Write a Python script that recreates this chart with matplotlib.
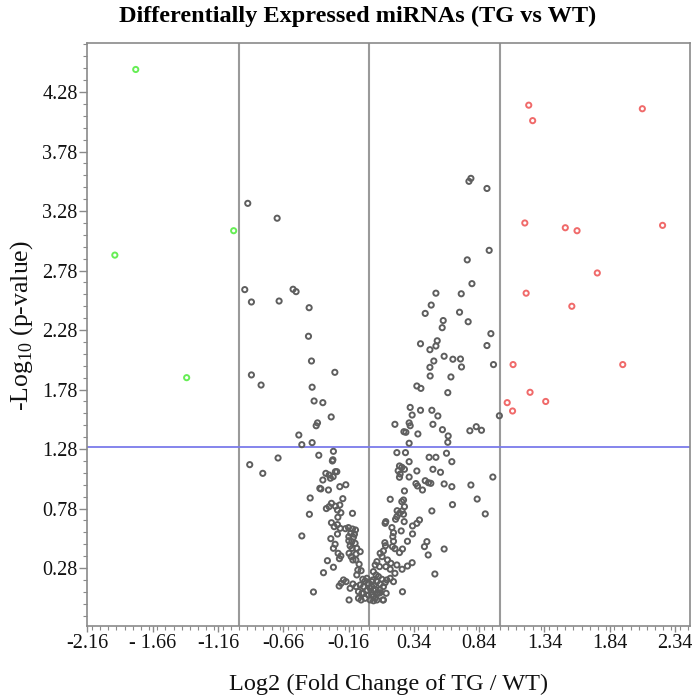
import matplotlib
matplotlib.use("Agg")
import matplotlib.pyplot as plt
from matplotlib.ticker import MultipleLocator, FixedLocator

plt.rcParams['font.family'] = ['Liberation Serif', 'DejaVu Serif']
plt.rcParams['mathtext.fontset'] = 'custom'
plt.rcParams['mathtext.rm'] = 'Liberation Serif'

# ---------------- data ----------------
down_x = [-1.79, -1.95, -1.04, -1.40]
down_y = [4.47, 2.91, 3.115, 1.88]

up_x = [1.22, 1.25, 2.09, 1.19, 1.50, 1.59, 2.245, 1.745, 1.20, 1.55, 1.10, 1.94, 1.23, 1.35, 1.055, 1.096]
up_y = [4.17, 4.04, 4.14, 3.18, 3.14, 3.115, 3.16, 2.76, 2.59, 2.48, 1.99, 1.99, 1.757, 1.68, 1.67, 1.60]

gray_x = [
    0.90, 0.917, 0.93, 0.90, 0.95, 0.995,
    0.777, 0.762, 0.749, 0.785, 0.509, 0.703, 0.473, 0.427, 0.69, 0.565, 0.557, 0.756,
    0.391, 0.519, 0.509, 0.463, 0.572, 0.639, 0.697, 0.493, 0.463, 0.705, 0.465, 0.624,
    0.363, 0.394, 0.60, 0.312, 0.327, 0.391, 0.478, 0.524, 0.195, 0.304, 0.312, 0.486,
    0.264, 0.279, 0.371, 0.559, 0.603, 0.769, 0.818, 0.858, 0.304, 0.60, 0.21, 0.276,
    0.59, 0.457, 0.509, 0.304, 0.631, 0.23, 0.248, 0.268, 0.22, 0.235, 0.23, 0.363,
    0.486, 0.544, 0.304, 0.427, 0.452, 0.47, 0.356, 0.368, 0.572, 0.631, 0.777, 0.945,
    0.406, 0.268, 0.159, 0.248, 0.261, 0.268, 0.825, 0.636, 0.478, 0.887, 0.212, 0.23,
    0.25, 0.261, 0.21, 0.2, 0.266, 0.383, 0.363, 0.33, 0.12, 0.125, 0.172, 0.243,
    0.33, 0.184, 0.179, 0.118, 0.123, 0.107, 0.184, 0.176, 0.195, 0.291, 0.44, 0.421,
    0.23, 0.253, 0.45, 0.572, 0.082, 0.097, 0.057, 0.044, 0.077, 0.138, 0.164, 0.126,
    0.159, 0.21, 0.195, 0.25, 0.291, 0.327, 0.501, 0.03, 0.051, 0.069, 0.026, 0.057,
    0.095, 0.082, 0.12, 0.159, 0.184, 0.018, 0.044, 0.069, 0.018, 0.044, 0.107, 0.031,
    0.082, 0.128, 0.253,
    -0.83, -0.439, -0.424, -0.357, -0.293, -0.398, -0.408, -0.541, -0.518, -0.439,
    -0.70, -0.917, -0.817, -0.388, -0.276, -0.284, -0.28, -0.334, -0.309, -0.261,
    -0.25, -0.278, -0.299, -0.357, -0.38, -0.372, -0.314, -0.227, -0.181, -0.454,
    -0.204, -0.291, -0.261, -0.227, -0.33, -0.309, -0.245, -0.219, -0.46, -0.13,
    -0.242, -0.291, -0.27, -0.245, -0.224, -0.184, -0.161, -0.13, -0.107, -0.143,
    -0.115, -0.518, -0.296, -0.245, -0.263, -0.276, -0.158, -0.158, -0.123, -0.135,
    -0.11, -0.148, -0.133, -0.097, -0.24, -0.23, -0.219, -0.322, -0.156, -0.14,
    -0.127, -0.102, -0.071, -0.104, -0.276, -0.352, -0.079, -0.089, -0.064, -0.097,
    -0.199, -0.217, -0.232, -0.179, -0.127, -0.102, -0.148, -0.051, -0.033, -0.02,
    -0.071, -0.046, -0.084, -0.058, -0.429, -0.156, -0.084, -0.064, -0.033, -0.008,
    0.005, 0.031, 0.057, 0.082, 0.107, 0.133, 0.057, 0.103, -0.046, -0.02,
    0.005, 0.031, -0.008, 0.018, 0.036,
    -0.932, -0.707, -0.955, -0.585, -0.562, -0.904, -0.692, -0.462, -0.467, -0.444,
    -0.904, -0.265,
]
gray_y = [
    3.47, 2.95, 2.25, 2.15, 1.99, 1.56,
    3.555, 3.53, 2.87, 2.67, 2.59, 2.585, 2.49, 2.42, 2.43, 2.36, 2.30, 2.35,
    2.165, 2.19, 2.146, 2.115, 2.06, 2.035, 2.037, 2.02, 1.967, 1.97, 1.894, 1.886,
    1.81, 1.79, 1.754, 1.63, 1.566, 1.606, 1.606, 1.558, 1.488, 1.50, 1.476, 1.488,
    1.426, 1.421, 1.407, 1.443, 1.39, 1.434, 1.468, 1.438, 1.329, 1.337, 1.25, 1.25,
    1.245, 1.211, 1.211, 1.174, 1.174, 1.138, 1.127, 1.11, 1.098, 1.07, 1.043, 1.096,
    1.11, 1.085, 1.045, 1.014, 0.997, 0.992, 0.99, 0.97, 0.987, 0.964, 0.978, 1.045,
    0.936, 0.928, 0.858, 0.838, 0.852, 0.796, 0.86, 0.813, 0.76, 0.735, 0.762, 0.74,
    0.76, 0.732, 0.712, 0.69, 0.67, 0.684, 0.656, 0.634, 0.656, 0.67, 0.62, 0.592,
    0.567, 0.577, 0.544, 0.493, 0.468, 0.424, 0.505, 0.46, 0.443, 0.505, 0.502, 0.46,
    0.41, 0.44, 0.39, 0.44, 0.404, 0.376, 0.334, 0.306, 0.292, 0.348, 0.32, 0.292,
    0.27, 0.306, 0.236, 0.27, 0.297, 0.325, 0.23, 0.25, 0.222, 0.208, 0.18, 0.166,
    0.186, 0.146, 0.157, 0.194, 0.166, 0.124, 0.102, 0.068, 0.054, 0.026, 0.012, 0.005,
    0.073, 0.068, 0.081,
    1.818, 1.80, 1.684, 1.67, 1.55, 1.50, 1.476, 1.398, 1.317, 1.334,
    1.205, 1.149, 1.076, 1.228, 1.261, 1.18, 1.19, 1.076, 1.062, 1.09,
    1.09, 1.048, 1.035, 1.02, 0.95, 0.945, 0.936, 0.964, 0.98, 0.869,
    0.863, 0.824, 0.80, 0.81, 0.78, 0.796, 0.768, 0.745, 0.732, 0.74,
    0.707, 0.661, 0.628, 0.645, 0.614, 0.611, 0.62, 0.608, 0.60, 0.572,
    0.564, 0.55, 0.527, 0.566, 0.48, 0.446, 0.544, 0.51, 0.539, 0.502,
    0.488, 0.466, 0.446, 0.446, 0.404, 0.359, 0.382, 0.342, 0.404, 0.376,
    0.348, 0.398, 0.418, 0.348, 0.287, 0.241, 0.312, 0.264, 0.258, 0.222,
    0.18, 0.152, 0.129, 0.166, 0.146, 0.124, 0.11, 0.186, 0.172, 0.194,
    0.138, 0.124, 0.082, 0.068, 0.079, 0.012, 0.026, 0.012, 0.026, 0.054,
    0.012, 0.04, 0.068, 0.096, 0.124, 0.18, 0.012, 0.012, 0.068, 0.09,
    0.11, 0.096, 0.152, 0.166, 0.138,
    3.345, 3.22, 2.62, 2.623, 2.603, 2.516, 2.524, 2.468, 2.228, 2.02,
    1.903, 1.925,
]

x_ticks = [-2.16, -1.66, -1.16, -0.66, -0.16, 0.34, 0.84, 1.34, 1.84, 2.34]
x_tick_labels = ["-2.16", "- 1.66", "-1.16", "-0.66", "-0.16", "0.34", "0.84", "1.34", "1.84", "2.34"]
y_ticks = [0.28, 0.78, 1.28, 1.78, 2.28, 2.78, 3.28, 3.78, 4.28]
fc_cutoffs = [-1.0, 0.0, 1.0]
p_cutoff = 1.30

# ---------------- figure ----------------
fig = plt.figure(figsize=(7, 7), dpi=100)
ax = fig.add_axes([0.1249, 0.1057, 0.9857 - 0.1249, 0.939 - 0.1057])

ms = 14
lw = 1.4
ax.scatter(gray_x, gray_y, s=ms, facecolors='none', edgecolors='#5e5e5e', linewidths=lw, zorder=3)
ax.scatter(up_x, up_y, s=ms, facecolors='none', edgecolors='#f06a6a', linewidths=lw, zorder=3)
ax.scatter(down_x, down_y, s=ms, facecolors='none', edgecolors='#66ee55', linewidths=lw, zorder=3)

for v in fc_cutoffs:
    ax.axvline(v, color='#9a9a9a', lw=1.5, zorder=1)
ax.axhline(p_cutoff, color='#7b7bea', lw=1.3, zorder=2)

ax.set_xlim(-2.16, 2.455)
ax.set_ylim(-0.207, 4.695)

ax.xaxis.set_major_locator(FixedLocator(x_ticks))
ax.set_xticklabels(x_tick_labels)
ax.xaxis.set_minor_locator(MultipleLocator(0.0625))
ax.yaxis.set_major_locator(FixedLocator(y_ticks))
ax.set_yticklabels([f"{t:.2f}" for t in y_ticks])
ax.yaxis.set_minor_locator(FixedLocator([0.28 + 0.1 * k for k in range(-4, 45)]))

for sp in ax.spines.values():
    sp.set_color('#8a8a8a')
    sp.set_linewidth(1.2)
ax.tick_params(axis='y', which='major', direction='out', length=5.5, width=1, color='#8a8a8a',
               labelsize=14.5, labelcolor='#111111', pad=1.5)
ax.tick_params(axis='x', which='major', direction='out', length=4, width=1, color='#8a8a8a',
               labelsize=14.5, labelcolor='#111111', pad=1.5)
ax.tick_params(axis='both', which='minor', direction='out', length=2.8, width=0.8, color='#8a8a8a')

ax.set_xlabel("Log2 (Fold Change of TG / WT)", fontsize=17.5, color='#111111', va='center')
ax.xaxis.set_label_coords(0.5, -0.0994)
ax.set_ylabel(r"-Log$_{\mathrm{10}}$ (p-value)", fontsize=18.5, color='#111111', va='center')
ax.yaxis.set_label_coords(-0.1085, 0.515)

fig.text(0.511, 1 - 16 / 700, "Differentially Expressed miRNAs (TG vs WT)",
         ha='center', va='center', fontsize=17.5, fontweight='bold', color='#000000')

fig.savefig("out.png", dpi=100)
